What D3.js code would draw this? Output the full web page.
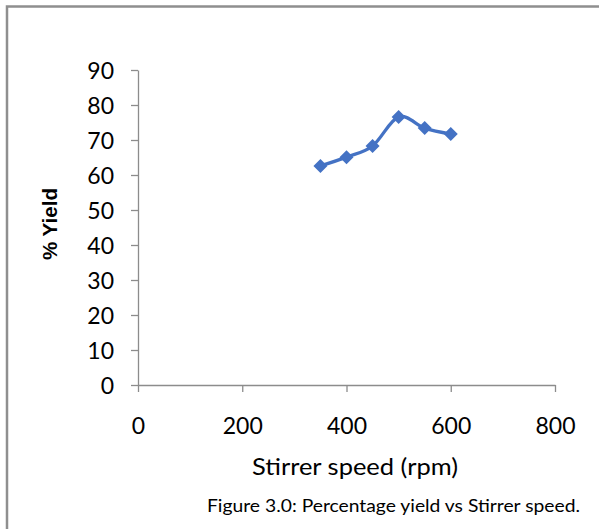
<!DOCTYPE html>
<html>
<head>
<meta charset="utf-8">
<script src="https://cdn.jsdelivr.net/npm/d3@7.9.0/dist/d3.min.js"></script>
<style>
  html, body { margin: 0; padding: 0; background: #fff; }
  svg { display: block; }
</style>
</head>
<body>
<div id="chart"></div>
<script>
// data
const speeds = [350, 400, 450, 500, 550, 600];
const yields = [62.6, 65.1, 68.3, 76.6, 73.4, 71.7];
const xTicks = [0, 200, 400, 600, 800];
const yTicks = [0, 10, 20, 30, 40, 50, 60, 70, 80, 90];

const width = 599, height = 529;
const plot = { left: 138, right: 555, top: 70, bottom: 385 };
const bodyFont = 'Lato, "Open Sans", sans-serif';

const svg = d3.select('#chart').append('svg')
  .attr('width', width)
  .attr('height', height);

svg.append('rect').attr('width', width).attr('height', height).attr('fill', '#fff');

// frame (only top and left edges show)
svg.append('path')
  .attr('d', `M7,${height} V6.5 H${width}`)
  .attr('fill', 'none')
  .attr('stroke', '#8f8f8f')
  .attr('stroke-width', 2.5);

const x = d3.scaleLinear().domain([0, 800]).range([plot.left, plot.right]);
const y = d3.scaleLinear().domain([0, 90]).range([plot.bottom, plot.top]);

const axisColor = '#8c8c8c';

// y axis
const yAxis = svg.append('g')
  .attr('transform', `translate(${plot.left},0)`)
  .call(d3.axisLeft(y).tickValues(yTicks).tickSize(7).tickPadding(17).tickSizeOuter(0));
yAxis.select('.domain').attr('stroke', axisColor).attr('stroke-width', 1.3);
yAxis.selectAll('.tick line').attr('stroke', axisColor).attr('stroke-width', 1.3);
yAxis.selectAll('.tick text')
  .style('font-family', bodyFont)
  .style('font-size', '23px')
  .attr('fill', '#000')
  .attr('dy', '0.36em');

// x axis
const xAxis = svg.append('g')
  .attr('transform', `translate(0,${plot.bottom})`)
  .call(d3.axisBottom(x).tickValues(xTicks).tickSize(7).tickPadding(28).tickSizeOuter(0));
xAxis.select('.domain').attr('stroke', axisColor).attr('stroke-width', 1.3);
xAxis.selectAll('.tick line').attr('stroke', axisColor).attr('stroke-width', 1.3);
xAxis.selectAll('.tick text')
  .style('font-family', bodyFont)
  .style('font-size', '23px')
  .attr('fill', '#000')
  .attr('dy', '0.6em');

// axis titles
svg.append('text')
  .attr('x', 355)
  .attr('y', 475)
  .attr('text-anchor', 'middle')
  .attr('textLength', 206)
  .attr('lengthAdjust', 'spacingAndGlyphs')
  .style('font-family', bodyFont)
  .style('font-size', '23px')
  .text('Stirrer speed (rpm)');

svg.append('text')
  .attr('transform', 'translate(57,224) rotate(-90)')
  .attr('text-anchor', 'middle')
  .attr('textLength', 72)
  .attr('lengthAdjust', 'spacingAndGlyphs')
  .style('font-family', '"Liberation Sans", Arial, sans-serif')
  .style('font-weight', 'bold')
  .style('font-size', '20.5px')
  .text('% Yield');

// caption
svg.append('text')
  .attr('x', 580)
  .attr('y', 512)
  .attr('text-anchor', 'end')
  .attr('textLength', 373)
  .attr('lengthAdjust', 'spacingAndGlyphs')
  .style('font-family', bodyFont)
  .style('font-size', '17px')
  .text('Figure 3.0: Percentage yield vs Stirrer speed.');

// series
const pts = speeds.map((s, i) => [s, yields[i]]);
const line = d3.line()
  .x(d => x(d[0]))
  .y(d => y(d[1]))
  .curve(d3.curveCatmullRom.alpha(0));

svg.append('path')
  .datum(pts)
  .attr('d', line)
  .attr('fill', 'none')
  .attr('stroke', '#4472c4')
  .attr('stroke-width', 3.3);

svg.append('g').selectAll('path')
  .data(pts)
  .join('path')
  .attr('d', d3.symbol(d3.symbolSquare, 98))
  .attr('transform', d => `translate(${x(d[0])},${y(d[1])}) rotate(45)`)
  .attr('fill', '#4472c4');
</script>
</body>
</html>
